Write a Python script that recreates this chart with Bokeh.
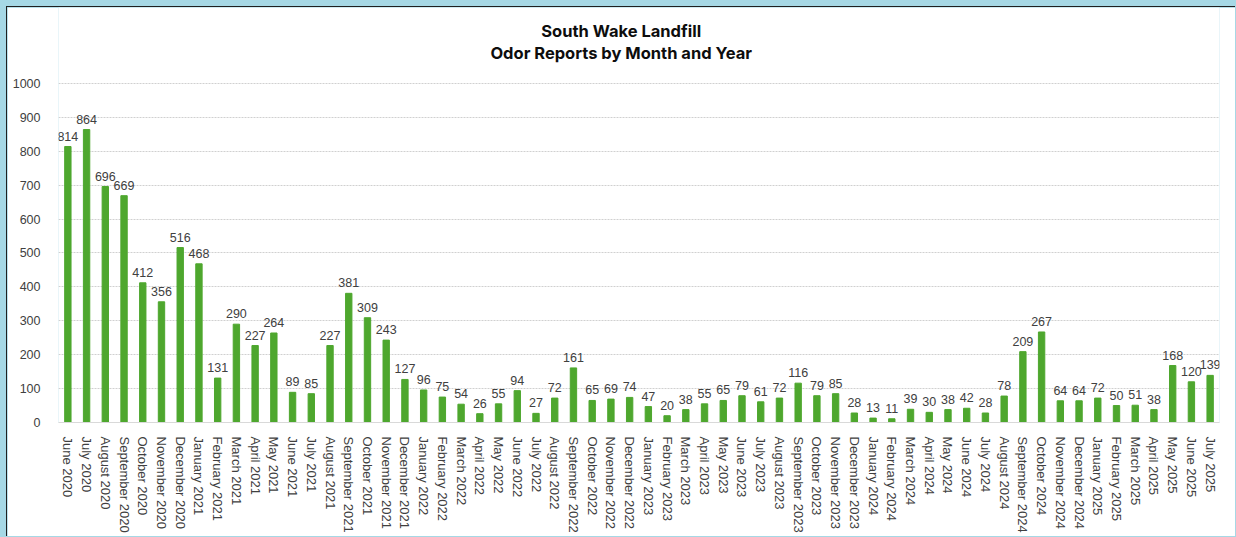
from bokeh.plotting import figure
from bokeh.models import ColumnDataSource, Range1d, FactorRange, LabelSet, Label, FixedTicker
from bokeh.core.properties import value
from bokeh.embed import file_html
from bokeh.resources import INLINE

months = [
    "June 2020", "July 2020", "August 2020", "September 2020", "October 2020", "November 2020", "December 2020",
    "January 2021", "February 2021", "March 2021", "April 2021", "May 2021", "June 2021", "July 2021",
    "August 2021", "September 2021", "October 2021", "November 2021", "December 2021",
    "January 2022", "February 2022", "March 2022", "April 2022", "May 2022", "June 2022", "July 2022",
    "August 2022", "September 2022", "October 2022", "November 2022", "December 2022",
    "January 2023", "February 2023", "March 2023", "April 2023", "May 2023", "June 2023", "July 2023",
    "August 2023", "September 2023", "October 2023", "November 2023", "December 2023",
    "January 2024", "February 2024", "March 2024", "April 2024", "May 2024", "June 2024", "July 2024",
    "August 2024", "September 2024", "October 2024", "November 2024", "December 2024",
    "January 2025", "February 2025", "March 2025", "April 2025", "May 2025", "June 2025", "July 2025",
]
reports = [
    814, 864, 696, 669, 412, 356, 516,
    468, 131, 290, 227, 264, 89, 85,
    227, 381, 309, 243, 127,
    96, 75, 54, 26, 55, 94, 27,
    72, 161, 65, 69, 74,
    47, 20, 38, 55, 65, 79, 61,
    72, 116, 79, 85, 28,
    13, 11, 39, 30, 38, 42, 28,
    78, 209, 267, 64, 64,
    72, 50, 51, 38, 168, 120, 139,
]
y_ticks = [0, 100, 200, 300, 400, 500, 600, 700, 800, 900, 1000]
title_lines = ["South Wake Landfill", "Odor Reports by Month and Year"]

source = ColumnDataSource(dict(month=months, reports=reports, label=[str(v) for v in reports]))

FONT = "Liberation Sans"
TITLE_FONT = "Inter"

# frame extends above the 1000 line so that the two title lines sit inside it
p = figure(
    width=1229, height=530,
    x_range=FactorRange(*months, range_padding=0),
    y_range=Range1d(0, 1224),
    output_backend="svg", toolbar_location=None,
    min_border_left=51, min_border_right=17, min_border_top=0, min_border_bottom=115,
    background_fill_color="white", border_fill_color="white",
)
p.outline_line_color = None
p.styles = {"border-top": "1px solid #1f1f1f", "border-left": "1px solid #1f1f1f"}

p.vbar(x="month", top="reports", width=0.34, color="#4EA72E", source=source)

labels = LabelSet(x="month", y="reports", text="label", source=source,
                  text_align="center", text_baseline="bottom", y_offset=6,
                  text_font=value(FONT), text_font_size=value("12.5px"), text_color=value("#404040"))
p.add_layout(labels)

title_center = (len(months) - 1) / 2 - 0.45
for txt, yv in zip(title_lines, [1154, 1089]):
    p.add_layout(Label(x=title_center, y=yv, text=txt, text_align="center", text_baseline="alphabetic",
                       text_font=TITLE_FONT, text_font_style="bold", text_font_size="16.5px",
                       text_color="#0d0d0d"))

p.yaxis.ticker = FixedTicker(ticks=y_ticks)
p.yaxis.axis_line_color = None
p.yaxis.major_tick_line_color = None
p.yaxis.minor_tick_line_color = None
p.yaxis.major_label_standoff = 12
p.yaxis.major_label_text_font = FONT
p.yaxis.major_label_text_font_size = "12.5px"
p.yaxis.major_label_text_color = "#404040"

p.xaxis.axis_line_color = "#d9d9d9"
p.xaxis.major_tick_line_color = None
p.xaxis.minor_tick_line_color = None
p.xaxis.major_label_orientation = "vertical"
p.xaxis.major_label_standoff = 8
p.xaxis.major_label_text_font = FONT
p.xaxis.major_label_text_font_size = "13px"
p.xaxis.major_label_text_color = "#404040"

p.xgrid.grid_line_color = None
p.ygrid.grid_line_color = "#d0d0d0"
p.ygrid.grid_line_dash = "2 1"

html = file_html(p, INLINE)
html = html.replace(
    "</head>",
    "<style>html,body{margin:0 !important;background:#a6d8e5 !important;}"
    "body{padding:6px 0 0 6px !important;}</style></head>",
    1,
)
open("out.html", "w").write(html)
